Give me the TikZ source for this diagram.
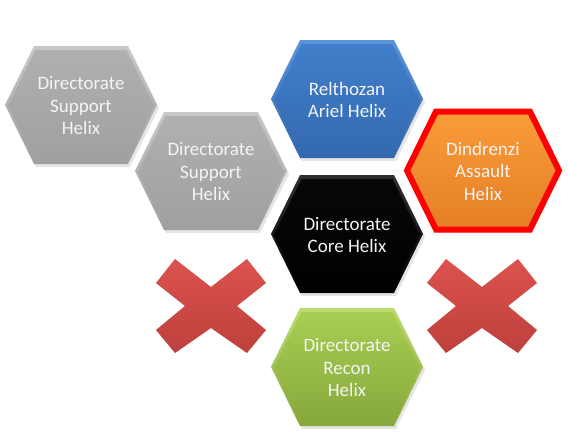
\documentclass[tikz,border=0pt]{standalone}
\usepackage{fontspec}
\setmainfont{Carlito}
\definecolor{grayT}{HTML}{B0B0B0}
\definecolor{grayB}{HTML}{A0A0A0}
\definecolor{grayR}{HTML}{C8C8C8}
\definecolor{blueT}{HTML}{417FCB}
\definecolor{blueB}{HTML}{3469B0}
\definecolor{blueR}{HTML}{5A94DA}
\definecolor{orgT}{HTML}{FA9C3A}
\definecolor{orgB}{HTML}{E47E25}
\definecolor{grnT}{HTML}{A8CE53}
\definecolor{grnB}{HTML}{86A83C}
\definecolor{grnR}{HTML}{BCDC6E}
\definecolor{blkT}{HTML}{080808}
\definecolor{blkB}{HTML}{000000}
\definecolor{blkR}{HTML}{303030}
\definecolor{xT}{HTML}{DC524E}
\definecolor{xB}{HTML}{BE403C}
\definecolor{txt}{HTML}{F4F4F4}
\newcommand\hexpath[5]{(#1-#3,#2) -- (#1-#5,#2-#4) -- (#1+#5,#2-#4) -- (#1+#3,#2) -- (#1+#5,#2+#4) -- (#1-#5,#2+#4) -- cycle}
\newcommand\hexnode[5]{% x, y, top, bottom, rim
  \fill[black,opacity=0.10] \hexpath{#1+2}{#2+3}{76}{59}{47};
  \shade[top color=#5,bottom color=#4] \hexpath{#1}{#2}{76}{59}{47};
  \shade[top color=#3,bottom color=#4] \hexpath{#1}{#2+1}{73}{56}{45.5};
}
\tikzset{
  hextext/.style={align=center,text=txt,font=\fontsize{19}{22.5}\selectfont,inner sep=0pt},
}
\newcommand\xmark[1]{%
  (#1) ++(-55,-23) -- ++(19,-24) -- ++(36,28) -- ++(36,-28) -- ++(19,24) -- ++(-29,23) -- ++(29,24) -- ++(-19,23) -- ++(-36,-25) -- ++(-36,25) -- ++(-19,-23) -- ++(29,-24) -- cycle}
\begin{document}
\begin{tikzpicture}[x=1pt,y=-1pt]
\useasboundingbox (0,0) rectangle (568,442);
% gray 1
\hexnode{81}{105}{grayT}{grayB}{grayR}
\node[hextext] (g1) at (81,106) {Directorate\\Support\\Helix};
% gray 2
\hexnode{211}{171}{grayT}{grayB}{grayR}
\node[hextext] (g2) at (211,172) {Directorate\\Support\\Helix};
% blue
\hexnode{347}{99}{blueT}{blueB}{blueR}
\node[hextext] (b) at (347,100) {Relthozan\\Ariel Helix};
% orange with red border
\fill[black,opacity=0.10] \hexpath{485}{174}{76}{59}{47};
\shade[top color=orgT,bottom color=orgB] \hexpath{483}{170.5}{76}{59}{47};
\draw[red,line width=6pt,line join=miter] \hexpath{483}{170.5}{76}{59}{47};
\node[hextext] (o) at (483,171) {Dindrenzi\\Assault\\Helix};
% black
\hexnode{347}{234}{blkT}{blkB}{blkR}
\node[hextext] (k) at (347,235) {Directorate\\Core Helix};
% green
\hexnode{347}{367}{grnT}{grnB}{grnR}
\node[hextext] (gr) at (347,368) {Directorate\\Recon\\Helix};
% red crosses
\coordinate (x1) at (211,306);
\coordinate (x2) at (482,306);
\fill[black,opacity=0.10,xshift=2pt,yshift=-3pt] \xmark{x1};
\fill[black,opacity=0.10,xshift=2pt,yshift=-3pt] \xmark{x2};
\shade[top color=xT,bottom color=xB] \xmark{x1};
\shade[top color=xT,bottom color=xB] \xmark{x2};
\end{tikzpicture}
\end{document}
